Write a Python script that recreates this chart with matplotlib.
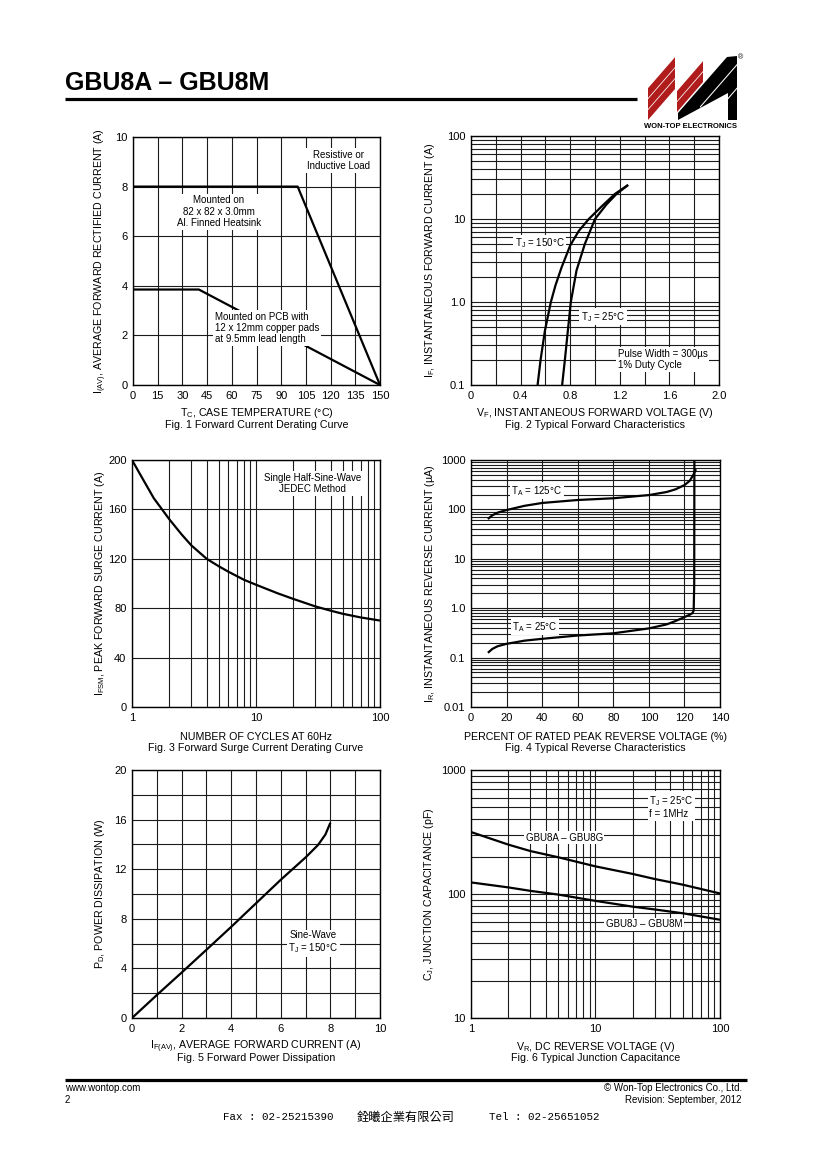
import matplotlib
matplotlib.use("Agg")
import matplotlib.pyplot as plt
from matplotlib.patches import Polygon
from matplotlib.ticker import LogLocator, NullFormatter, MultipleLocator
import numpy as np

plt.rcParams["font.family"] = ["Liberation Sans", "DejaVu Sans"]
plt.rcParams["mathtext.fontset"] = "custom"
plt.rcParams["mathtext.rm"] = "Liberation Sans"
plt.rcParams["mathtext.it"] = "Liberation Sans:italic"
plt.rcParams["mathtext.bf"] = "Liberation Sans:bold"

# Fig. 1 forward current derating
f1_temp_heatsink = [0, 100, 150]
f1_amp_heatsink = [8.0, 8.0, 0.0]
f1_temp_pcb = [0, 40, 150]
f1_amp_pcb = [3.85, 3.85, 0.0]

# Fig. 2 forward characteristics
f2_vf_150 = [0.537, 0.561, 0.596, 0.644, 0.682, 0.73, 0.80, 0.87, 0.95, 1.05, 1.16, 1.267]
f2_if_150 = [0.1, 0.2, 0.45, 1.0, 1.6, 2.6, 4.8, 7.2, 10.0, 14.0, 20.0, 25.7]
f2_vf_25 = [0.735, 0.757, 0.781, 0.805, 0.851, 0.918, 1.0, 1.093, 1.173, 1.267]
f2_if_25 = [0.1, 0.2, 0.45, 1.0, 2.4, 5.0, 10.0, 15.0, 20.0, 25.7]

# Fig. 3 surge current derating
f3_cycles = [1, 1.2, 1.5, 2, 2.5, 3, 4, 5, 6, 8, 10, 15, 20, 30, 40, 50, 70, 100]
f3_amp = [200, 186, 169, 152, 140, 131, 120, 114, 109.5, 103, 99, 92, 87.5, 81.5, 78, 75.5, 72.5, 70]

# Fig. 4 reverse characteristics
f4_pct_125 = [9.5, 12, 15, 20, 30, 40, 60, 80, 100, 110, 115, 120, 123, 125, 126.5]
f4_ua_125 = [64, 76, 86, 97, 118, 135, 155, 168, 195, 225, 255, 310, 380, 500, 650]
f4_pct_25 = [9.5, 12, 15, 20, 30, 40, 60, 80, 100, 110, 115, 120, 123, 124.6, 125.2, 125.5, 125.6]
f4_ua_25 = [0.125, 0.15, 0.17, 0.19, 0.22, 0.24, 0.28, 0.31, 0.39, 0.47, 0.55, 0.66, 0.74, 0.80, 0.9, 3.0, 1000]

# Fig. 5 power dissipation
f5_amp = [0, 1, 2, 3, 4, 5, 6, 7, 7.5, 7.8, 8.0]
f5_watt = [0, 1.85, 3.66, 5.5, 7.35, 9.25, 11.15, 12.95, 13.95, 14.8, 15.75]

# Fig. 6 junction capacitance
f6_volt = [1, 2, 3, 5, 10, 20, 30, 50, 100]
f6_pf_ag = [316, 250, 222, 198, 167, 145, 132, 119, 101]
f6_pf_jm = [124, 113, 106, 99, 88, 79, 75, 70, 62]

W, H = 820, 1160
fig = plt.figure(figsize=(8.2, 11.6), dpi=100)
page = fig.add_axes([0, 0, 1, 1])
page.set_xlim(0, W)
page.set_ylim(H, 0)
page.axis("off")

GRID = "#1c1c1c"
CURVE = dict(color="black", lw=1.6, solid_capstyle="butt")
BOX = dict(facecolor="white", edgecolor="none", pad=1.2)


def make_axes(left, top, right, bottom):
    return fig.add_axes([left / W, 1 - bottom / H, (right - left) / W, (bottom - top) / H])


def style(ax):
    ax.grid(True, which="both", color=GRID, lw=0.8)
    ax.set_axisbelow(True)
    ax.tick_params(which="both", length=0, pad=4, labelsize=8)
    ax.yaxis.set_minor_formatter(NullFormatter())
    ax.xaxis.set_minor_formatter(NullFormatter())
    for s in ax.spines.values():
        s.set_linewidth(1.0)


def labels(ax, xlabel, caption, ylabel, ylab_dx, xlab_dy, cap_dy):
    kw = dict(xycoords="axes fraction", textcoords="offset pixels",
              ha="center", va="center", fontsize=7.7)
    ax.annotate(xlabel, xy=(0.5, 0), xytext=(0, -xlab_dy), **kw)
    ax.annotate(caption, xy=(0.5, 0), xytext=(0, -cap_dy), **kw)
    ax.annotate(ylabel, xy=(0, 0.5), xytext=(-ylab_dx, 0), rotation=90, **kw)


def log_minor(axis):
    axis.set_minor_locator(LogLocator(base=10, subs=np.arange(2, 10), numticks=30))


# ---------- Fig. 1 ----------
ax1 = make_axes(133, 137, 380, 385)
ax1.plot(f1_temp_heatsink, f1_amp_heatsink, **CURVE)
ax1.plot(f1_temp_pcb, f1_amp_pcb, **CURVE)
ax1.set_xlim(0, 150)
ax1.set_ylim(0, 10)
ax1.set_xticks(np.arange(0, 151, 15))
ax1.set_yticks(np.arange(0, 11, 2))
style(ax1)
ax1.text(124.5, 9.05, "Resistive or\nInductive Load", ha="center", va="center",
         fontsize=7, linespacing=1.15, bbox=BOX)
ax1.text(52.2, 6.99, "Mounted on\n82 x 82 x 3.0mm\nAl. Finned Heatsink", ha="center",
         va="center", fontsize=7, linespacing=1.15, bbox=BOX)
ax1.text(49.8, 2.3, "Mounted on PCB with\n12 x 12mm copper pads\nat 9.5mm lead length",
         ha="left", va="center", fontsize=7, linespacing=1.15, bbox=BOX)
labels(ax1, r"T$_\mathrm{C}$, CASE TEMPERATURE (°C)", "Fig. 1 Forward Current Derating Curve",
       r"I$_\mathrm{(AV)}$, AVERAGE FORWARD RECTIFIED CURRENT (A)", 32, 28, 40)

# ---------- Fig. 2 ----------
ax2 = make_axes(471, 136, 719, 385)
ax2.plot(f2_vf_150, f2_if_150, **CURVE)
ax2.plot(f2_vf_25, f2_if_25, **CURVE)
ax2.set_yscale("log")
ax2.set_xlim(0, 2.0)
ax2.set_ylim(0.1, 100)
ax2.set_xticks([0, 0.4, 0.8, 1.2, 1.6, 2.0], ["0", "0.4", "0.8", "1.2", "1.6", "2.0"])
ax2.xaxis.set_minor_locator(MultipleLocator(0.2))
ax2.set_yticks([0.1, 1, 10, 100], ["0.1", "1.0", "10", "100"])
log_minor(ax2.yaxis)
style(ax2)
ax2.text(0.556, 5.1, r"T$_\mathrm{J}$ = 150°C", ha="center", va="center", fontsize=7, bbox=BOX)
ax2.text(1.065, 0.665, r"T$_\mathrm{J}$ = 25°C", ha="center", va="center", fontsize=7, bbox=BOX)
ax2.text(1.183, 0.203, "Pulse Width = 300µs\n1% Duty Cycle", ha="left", va="center",
         fontsize=7, linespacing=1.15, bbox=BOX)
labels(ax2, r"V$_\mathrm{F}$, INSTANTANEOUS FORWARD VOLTAGE (V)",
       "Fig. 2 Typical Forward Characteristics",
       r"I$_\mathrm{F}$, INSTANTANEOUS FORWARD CURRENT (A)", 41, 28, 40)

# ---------- Fig. 3 ----------
ax3 = make_axes(132, 460, 380, 707)
ax3.plot(f3_cycles, f3_amp, **CURVE)
ax3.set_xscale("log")
ax3.set_xlim(1, 100)
ax3.set_ylim(0, 200)
ax3.set_xticks([1, 10, 100], ["1", "10", "100"])
log_minor(ax3.xaxis)
ax3.set_yticks(np.arange(0, 201, 40))
style(ax3)
ax3.text(28.6, 181, "Single Half-Sine-Wave\nJEDEC Method", ha="center", va="center",
         fontsize=7, linespacing=1.15, bbox=BOX)
labels(ax3, "NUMBER OF CYCLES AT 60Hz", "Fig. 3 Forward Surge Current Derating Curve",
       r"I$_\mathrm{FSM}$, PEAK FORWARD SURGE CURRENT (A)", 32, 30, 41)

# ---------- Fig. 4 ----------
ax4 = make_axes(471, 460, 720, 707)
ax4.plot(f4_pct_125, f4_ua_125, **CURVE)
ax4.plot(f4_pct_25, f4_ua_25, **CURVE)
ax4.set_yscale("log")
ax4.set_xlim(0, 140)
ax4.set_ylim(0.01, 1000)
ax4.set_xticks(np.arange(0, 141, 20))
ax4.set_yticks([0.01, 0.1, 1, 10, 100, 1000], ["0.01", "0.1", "1.0", "10", "100", "1000"])
log_minor(ax4.yaxis)
style(ax4)
ax4.text(36.9, 239, r"T$_\mathrm{A}$ = 125°C", ha="center", va="center", fontsize=7, bbox=BOX)
ax4.text(36.0, 0.422, r"T$_\mathrm{A}$ = 25°C", ha="center", va="center", fontsize=7, bbox=BOX)
labels(ax4, "PERCENT OF RATED PEAK REVERSE VOLTAGE (%)", "Fig. 4 Typical Reverse Characteristics",
       r"I$_\mathrm{R}$, INSTANTANEOUS REVERSE CURRENT (µA)", 41, 30, 41)

# ---------- Fig. 5 ----------
ax5 = make_axes(132, 770, 380, 1018)
ax5.plot(f5_amp, f5_watt, **CURVE)
ax5.set_xlim(0, 10)
ax5.set_ylim(0, 20)
ax5.set_xticks(np.arange(0, 11, 2))
ax5.xaxis.set_minor_locator(MultipleLocator(1))
ax5.set_yticks(np.arange(0, 21, 4))
ax5.yaxis.set_minor_locator(MultipleLocator(2))
style(ax5)
ax5.text(7.31, 6.09, "Sine-Wave\n" + r"T$_\mathrm{J}$ = 150°C", ha="center", va="center",
         fontsize=7, linespacing=1.15, bbox=BOX)
labels(ax5, r"I$_\mathrm{F(AV)}$, AVERAGE FORWARD CURRENT (A)", "Fig. 5 Forward Power Dissipation",
       r"P$_\mathrm{D}$, POWER DISSIPATION (W)", 32, 29, 40)

# ---------- Fig. 6 ----------
ax6 = make_axes(471, 770, 720, 1018)
ax6.plot(f6_volt, f6_pf_ag, **CURVE)
ax6.plot(f6_volt, f6_pf_jm, **CURVE)
ax6.set_xscale("log")
ax6.set_yscale("log")
ax6.set_xlim(1, 100)
ax6.set_ylim(10, 1000)
ax6.set_xticks([1, 10, 100], ["1", "10", "100"])
ax6.set_yticks([10, 100, 1000], ["10", "100", "1000"])
log_minor(ax6.xaxis)
log_minor(ax6.yaxis)
style(ax6)
ax6.text(27.1, 506, r"T$_\mathrm{J}$ = 25°C" + "\nf = 1MHz", ha="left", va="center",
         fontsize=7, linespacing=1.15, bbox=BOX)
ax6.text(5.6, 284, "GBU8A – GBU8G", ha="center", va="center", fontsize=7, bbox=BOX)
ax6.text(24.6, 57, "GBU8J – GBU8M", ha="center", va="center", fontsize=7, bbox=BOX)
labels(ax6, r"V$_\mathrm{R}$, DC REVERSE VOLTAGE (V)", "Fig. 6 Typical Junction Capacitance",
       r"C$_\mathrm{J}$, JUNCTION CAPACITANCE (pF)", 42, 29, 40)

# ---------- page header / footer ----------
page.text(65, 90, "GBU8A – GBU8M", fontsize=18, fontweight="bold", ha="left", va="baseline")
page.plot([65, 637], [99, 99], color="black", lw=2.3, solid_capstyle="butt")
page.plot([65, 747], [1079.5, 1079.5], color="black", lw=2.3, solid_capstyle="butt")


def stripe(x0, x1, yb, t, rise):
    return [(x0, yb), (x0, yb - t), (x1, yb - t - rise), (x1, yb - rise)]


RED = "#b01c1c"
for yb in (120, 109, 98):
    page.add_patch(Polygon(stripe(648, 675, yb, 9.8, 31), closed=True, fc=RED, ec="none"))
for yb in (112, 101):
    page.add_patch(Polygon(stripe(677, 703, yb, 9.8, 30), closed=True, fc=RED, ec="none"))
page.add_patch(Polygon([(678, 120), (678, 113), (727, 57), (737, 56), (737, 120),
                        (728, 120), (728, 93)], closed=True, fc="black", ec="none"))
page.add_patch(Polygon(stripe(700, 737, 108, 1.6, 42.5), closed=True, fc="white", ec="none"))
page.add_patch(Polygon(stripe(712, 737, 118, 1.6, 29), closed=True, fc="white", ec="none"))
page.text(741, 58, "®", fontsize=5, ha="center", va="center")
page.text(691, 127, "WON-TOP ELECTRONICS", fontsize=5.5, fontweight="bold", ha="center", va="center")

page.text(65, 1088, "www.wontop.com", fontsize=7, ha="left", va="center")
page.text(65, 1100, "2", fontsize=7, ha="left", va="center")
page.text(742, 1088, "© Won-Top Electronics Co., Ltd.", fontsize=7, ha="right", va="center")
page.text(742, 1100, "Revision: September, 2012", fontsize=7, ha="right", va="center")
page.text(223, 1117, "Fax : 02-25215390", fontsize=7.8, family=["Liberation Mono", "DejaVu Sans Mono"],
          ha="left", va="center")
page.text(357, 1117, "銓曦企業有限公司", fontsize=8.8, family=["Noto Sans CJK TC", "DejaVu Sans"],
          ha="left", va="center")
page.text(489, 1117, "Tel : 02-25651052", fontsize=7.8, family=["Liberation Mono", "DejaVu Sans Mono"],
          ha="left", va="center")

fig.savefig("out.png", dpi=100)
